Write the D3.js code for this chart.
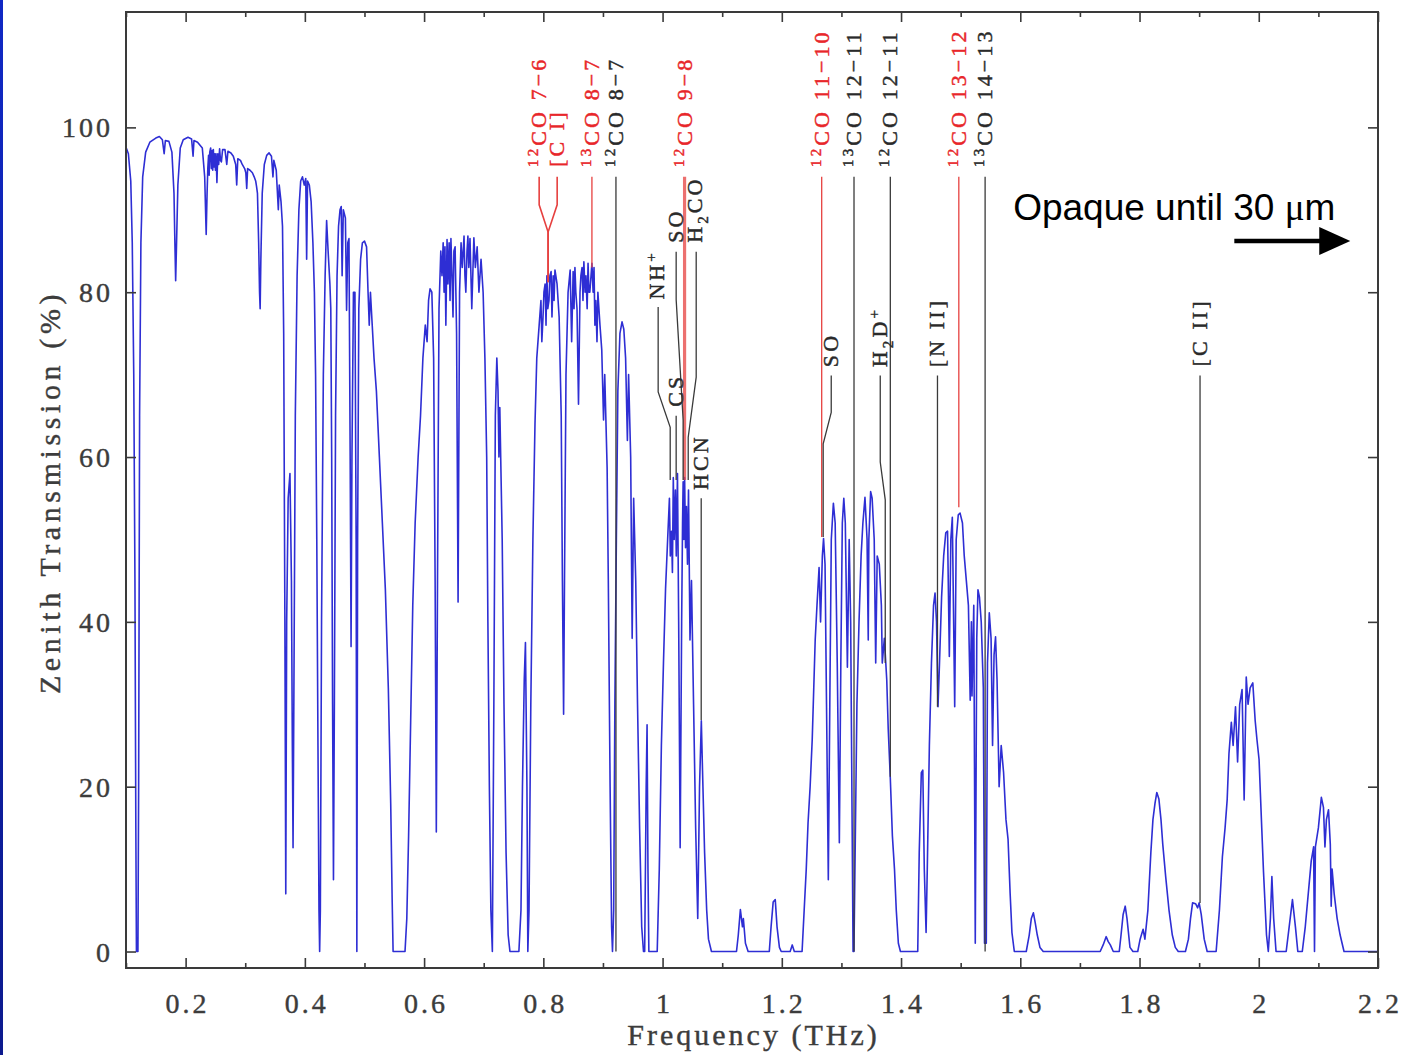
<!DOCTYPE html>
<html>
<head>
<meta charset="utf-8">
<script src="https://cdn.jsdelivr.net/npm/d3@7"></script>
<style>
  html, body { margin: 0; padding: 0; background: #fff; }
  svg { display: block; }
</style>
</head>
<body>
<svg id="chart" width="1401" height="1055"></svg>
<script>
// Zenith atmospheric transmission, frequency in THz, transmission in %
const spectrum = [
  [0.1000,97.6],[0.1040,96.8],[0.1080,93.5],[0.1105,86],[0.1130,70],[0.1150,45],[0.1165,15],[0.1175,0],[0.1200,0],[0.1212,20],
  [0.1228,65],[0.1250,86],[0.1280,94],[0.1330,97],[0.1400,98.2],[0.1500,98.7],[0.1560,98.9],[0.1610,98.5],[0.1640,96.8],[0.1660,98.4],
  [0.1720,98.3],[0.1770,97],[0.1805,92],[0.1820,86],[0.1833,81.4],[0.1848,86],[0.1870,93],[0.1910,97.5],[0.1960,98.5],[0.2040,98.8],
  [0.2100,98.6],[0.2125,96.5],[0.2140,98.4],[0.2200,98.2],[0.2280,97.5],[0.2320,94],[0.2345,87],[0.2360,92],[0.2372,95],[0.2385,96.6],
  [0.2395,94.2],[0.2405,97],[0.2420,97.5],[0.2432,95],[0.2445,97.2],[0.2455,94.8],[0.2465,97.3],[0.2478,95.2],[0.2490,96.8],[0.2500,94.8],
  [0.2510,96.8],[0.2525,93.3],[0.2540,96.8],[0.2555,95.5],[0.2570,97.4],[0.2585,96],[0.2600,95.8],[0.2620,97.3],[0.2660,97.3],[0.2690,95.5],
  [0.2710,97.1],[0.2760,96.9],[0.2800,96.5],[0.2840,95.5],[0.2857,93.0],[0.2875,96.2],[0.2920,96.0],[0.2950,95.5],[0.2990,95.0],[0.3010,94.5],
  [0.3025,92.6],[0.3040,95.0],[0.3080,94.8],[0.3120,94.5],[0.3150,94.0],[0.3175,93.5],[0.3190,92.8],[0.3205,92.0],[0.3225,86],[0.3240,80],
  [0.3250,78],[0.3262,84],[0.3285,92],[0.3320,95.5],[0.3360,96.6],[0.3400,96.9],[0.3440,96.5],[0.3465,94],[0.3480,96],[0.3520,94.8],
  [0.3555,90],[0.3570,93],[0.3600,91],[0.3625,88],[0.3645,75],[0.3665,40],[0.3680,7],[0.3695,40],[0.3720,55],[0.3750,58],
  [0.3775,45],[0.3790,25],[0.3802,12.6],[0.3815,30],[0.3840,65],[0.3870,82],[0.3900,90],[0.3930,93.5],[0.3960,94],[0.3990,93],
  [0.4015,93.8],[0.4030,84],[0.4045,93.5],[0.4075,93],[0.4105,91],[0.4135,86],[0.4160,80],[0.4180,70],[0.4200,50],[0.4220,25],
  [0.4237,5],[0.4248,0],[0.4260,5],[0.4280,40],[0.4310,70],[0.4340,82],[0.4365,88.7],[0.4390,85],[0.4420,81],[0.4435,78],
  [0.4450,60],[0.4465,30],[0.4480,8.7],[0.4495,30],[0.4515,65],[0.4540,82],[0.4565,88],[0.4590,90],[0.4610,90.4],[0.4625,82],
  [0.4645,90],[0.4680,89],[0.4700,77.8],[0.4720,86],[0.4740,86.5],[0.4760,60],[0.4775,37],[0.4790,60],[0.4815,80],[0.4840,80],
  [0.4860,50],[0.4872,0],[0.4885,50],[0.4905,78],[0.4935,84],[0.4965,86],[0.5000,86.2],[0.5035,85.5],[0.5060,80],[0.5080,76],
  [0.5100,80],[0.5130,76],[0.5160,72],[0.5200,68],[0.5250,60],[0.5300,52],[0.5350,44],[0.5400,32],[0.5440,18],[0.5465,6],
  [0.5480,0],[0.5680,0],[0.5710,4],[0.5740,14],[0.5775,28],[0.5810,42],[0.5850,52],[0.5900,60],[0.5940,65],[0.5980,72],
  [0.6020,76],[0.6050,74],[0.6075,79],[0.6100,80.4],[0.6130,80],[0.6160,72],[0.6185,45],[0.6205,14.5],[0.6225,45],[0.6250,78],
  [0.6280,85],[0.6300,82],[0.6320,86],[0.6335,80],[0.6350,85.5],[0.6365,76],[0.6385,86.4],[0.6400,81],[0.6420,86],[0.6435,79],
  [0.6450,86.5],[0.6468,82],[0.6485,77],[0.6500,85],[0.6520,85.5],[0.6545,75],[0.6570,42.4],[0.6595,80],[0.6620,86],[0.6640,83],
  [0.6670,86.8],[0.6685,82],[0.6700,80],[0.6720,85],[0.6735,86.8],[0.6750,83],[0.6770,86.5],[0.6800,78],[0.6835,86.6],[0.6860,83],
  [0.6890,85.5],[0.6920,80],[0.6955,84],[0.6990,80],[0.7020,72],[0.7050,60],[0.7070,40],[0.7095,20],[0.7120,5],[0.7145,0],
  [0.7170,30],[0.7195,65],[0.7220,72],[0.7240,68],[0.7255,60],[0.7270,66],[0.7310,50],[0.7340,30],[0.7375,12],[0.7410,2],
  [0.7440,0],[0.7590,0],[0.7625,5],[0.7650,20],[0.7680,33],[0.7700,37.5],[0.7725,20],[0.7740,0],[0.7760,5],[0.7790,30],
  [0.7825,50],[0.7860,64],[0.7890,72],[0.7930,76],[0.7960,79],[0.7975,74],[0.7995,77],[0.8010,80],[0.8030,81],[0.8045,76],
  [0.8060,82],[0.8075,78],[0.8095,79],[0.8110,82],[0.8130,82.5],[0.8145,77],[0.8165,82],[0.8180,79],[0.8195,82.7],[0.8230,81],
  [0.8265,77],[0.8300,65],[0.8320,45],[0.8340,28.8],[0.8355,45],[0.8380,70],[0.8415,80],[0.8450,82.7],[0.8475,74],[0.8500,82.5],
  [0.8515,78],[0.8530,83],[0.8545,80],[0.8565,78],[0.8590,66.4],[0.8615,80],[0.8630,82],[0.8650,83],[0.8665,79],[0.8680,83.7],
  [0.8700,80],[0.8715,82],[0.8735,78],[0.8750,83.5],[0.8765,80],[0.8780,80],[0.8800,82],[0.8815,83.5],[0.8835,80],[0.8850,83],
  [0.8865,76],[0.8880,79],[0.8900,74],[0.8915,80],[0.8950,76],[0.8980,73],[0.9010,64.5],[0.9030,70],[0.9070,58.7],[0.9090,45],
  [0.9120,20],[0.9145,3],[0.9160,0],[0.9180,5],[0.9200,30],[0.9225,50],[0.9250,68],[0.9285,75],[0.9320,76.4],[0.9350,75.5],
  [0.9380,72],[0.9410,62],[0.9430,70],[0.9465,60],[0.9490,38],[0.9515,55],[0.9550,45],[0.9580,30],[0.9615,15],[0.9650,3],
  [0.9680,0],[0.9700,0],[0.9725,20],[0.9740,27.5],[0.9755,10],[0.9770,0],[0.9910,0],[0.9945,10],[0.9980,25],[1.0015,35],
  [1.0050,44],[1.0085,50],[1.0115,55],[1.0130,48],[1.0150,51],[1.0165,46],[1.0180,57.5],[1.0195,50],[1.0215,56],[1.0230,48],
  [1.0250,58],[1.0270,40],[1.0295,12.6],[1.0320,40],[1.0335,52],[1.0345,57],[1.0358,50],[1.0370,57.5],[1.0385,49],[1.0400,54],
  [1.0418,47],[1.0435,56],[1.0460,37.8],[1.0485,45],[1.0520,30],[1.0555,15],[1.0590,4],[1.0620,20],[1.0650,28],[1.0670,22],
  [1.0705,12],[1.0740,5],[1.0770,1.5],[1.0820,0],[1.1240,0],[1.1270,2],[1.1305,5.1],[1.1340,3],[1.1355,4],[1.1390,1],
  [1.1435,0],[1.1790,0],[1.1820,3],[1.1855,6],[1.1890,6.3],[1.1920,3],[1.1960,0.5],[1.1990,0],[1.2140,0],[1.2175,0.8],
  [1.2210,0],[1.2340,0],[1.2375,5],[1.2410,10],[1.2440,15.6],[1.2475,20],[1.2510,25.7],[1.2560,37.8],[1.2590,42],[1.2625,46.6],
  [1.2650,40],[1.2680,48],[1.2700,50.1],[1.2725,47],[1.2750,30],[1.2780,8.7],[1.2805,30],[1.2830,50],[1.2865,54.4],[1.2895,52],
  [1.2930,35],[1.2965,13.2],[1.2990,35],[1.3015,52],[1.3040,55],[1.3065,52],[1.3100,34.5],[1.3130,50],[1.3155,40],[1.3180,15],
  [1.3195,0],[1.3210,0],[1.3235,15],[1.3260,30],[1.3295,40],[1.3330,48],[1.3360,52],[1.3395,55.1],[1.3430,50],[1.3450,37.8],
  [1.3460,50],[1.3490,55.8],[1.3515,55],[1.3550,50],[1.3575,35],[1.3600,48],[1.3635,47],[1.3670,42],[1.3685,35],[1.3720,38],
  [1.3760,33],[1.3785,27],[1.3820,21],[1.3855,14],[1.3890,10],[1.3920,5],[1.3955,1],[1.3990,0],[1.4280,0],[1.4305,12],
  [1.4340,21.7],[1.4365,22],[1.4390,10],[1.4420,2.3],[1.4440,10],[1.4475,25],[1.4510,35],[1.4545,42],[1.4570,43.5],[1.4595,40],
  [1.4620,29.7],[1.4645,35],[1.4680,43],[1.4715,48],[1.4750,50.8],[1.4780,51],[1.4810,35.8],[1.4835,50],[1.4860,52.7],[1.4900,29.7],
  [1.4925,50],[1.4960,53],[1.4990,53.2],[1.5030,52],[1.5060,48],[1.5095,45],[1.5130,42],[1.5160,30.5],[1.5180,40],[1.5190,31],
  [1.5220,42],[1.5245,1],[1.5270,38],[1.5290,43.9],[1.5315,43],[1.5345,40],[1.5380,32],[1.5400,1],[1.5430,1],[1.5450,35],
  [1.5480,41.1],[1.5510,38],[1.5535,25],[1.5560,36],[1.5585,38.2],[1.5610,33],[1.5645,20],[1.5680,25],[1.5720,21.7],[1.5760,16],
  [1.5795,13.6],[1.5830,7],[1.5860,2.3],[1.5900,0],[1.6100,0],[1.6150,2],[1.6185,4],[1.6220,4.7],[1.6250,3.5],[1.6285,2],
  [1.6330,0.5],[1.6385,0],[1.7340,0],[1.7390,0.8],[1.7440,1.8],[1.7475,1.2],[1.7510,0.8],[1.7560,0],[1.7660,0],[1.7690,2],
  [1.7725,4.5],[1.7760,5.5],[1.7790,4],[1.7840,0.5],[1.7890,0],[1.7970,0],[1.8010,1.5],[1.8060,2.7],[1.8090,1.5],[1.8140,5],
  [1.8190,12],[1.8225,16],[1.8260,18],[1.8290,19.3],[1.8325,18.5],[1.8360,16],[1.8390,13],[1.8440,9],[1.8495,5],[1.8550,2],
  [1.8600,0.5],[1.8650,0],[1.8770,0],[1.8820,1.5],[1.8855,4],[1.8890,5.9],[1.8940,5.8],[1.8975,5.3],[1.9000,5.9],[1.9035,4.5],
  [1.9085,1.5],[1.9135,0],[1.9285,0],[1.9340,5],[1.9390,11.5],[1.9435,15],[1.9470,18.4],[1.9500,24],[1.9540,27.8],[1.9570,25],
  [1.9610,29.7],[1.9645,23],[1.9680,30],[1.9720,31.8],[1.9755,18.4],[1.9790,33.3],[1.9820,30],[1.9855,32],[1.9900,32.6],[1.9940,28],
  [1.9970,25.7],[2.0005,23.3],[2.0050,15],[2.0080,9.6],[2.0130,2],[2.0160,0],[2.0195,4],[2.0220,9.1],[2.0250,4],[2.0290,0],
  [2.0460,0],[2.0510,3],[2.0565,6.3],[2.0615,3],[2.0655,0],[2.0730,0],[2.0780,3],[2.0830,7],[2.0880,11],[2.0920,12.7],
  [2.0935,0],[2.0950,12.7],[2.1000,15],[2.1050,18.7],[2.1085,17.5],[2.1110,12.7],[2.1135,16],[2.1170,17.2],[2.1200,13],[2.1215,5.5],
  [2.1230,10],[2.1265,7],[2.1315,4],[2.1365,2],[2.1430,0],[2.2000,0]
];

// Axis ticks
const xMajorTicks = [0.2, 0.4, 0.6, 0.8, 1.0, 1.2, 1.4, 1.6, 1.8, 2.0, 2.2];
const xMinorTicks = [0.1, 0.3, 0.5, 0.7, 0.9, 1.1, 1.3, 1.5, 1.7, 1.9, 2.1];
const yTicks = [0, 20, 40, 60, 80, 100];

// Spectral line markers: label, rest frequency (THz), transmission where the marker ends, highlighted (red)
const markerLabel = ["^{12}CO 7−6", "[C I]", "^{13}CO 8−7", "^{12}CO 8−7", "^{12}CO 9−8", "NH^{+}", "SO", "H_{2}CO", "CS", "HCN",
  "^{12}CO 11−10", "SO", "^{13}CO 12−11", "H_{2}D^{+}", "^{12}CO 12−11", "[N II]", "^{12}CO 13−12", "^{13}CO 14−13", "[C II]"];
const markerFreq = [0.808, 0.808, 0.8815, 0.9218, 1.0369, 1.0128, 1.0345, 1.0430, 1.0228, 1.0648,
  1.2669, 1.2694, 1.3211, 1.3735, 1.3820, 1.4611, 1.4969, 1.5410, 1.9015];
const markerDepth = [81.2, 81.2, 83, 0, 57.2, 57.2, 57.2, 57.2, 57.2, 28.1,
  50.3, 50.3, 0, 35, 21.2, 29.7, 53.9, 0, 5.9];
const markerRed = [true, true, true, false, true, false, false, false, false, false,
  true, false, false, false, false, false, true, false, false];

// Label placement [freq, transmission at text start] and leader-line bends
const labelAnchor = [[0.7930,95.2],[0.8232,95.2],[0.8815,95.2],[0.9218,95.2],[1.0369,95.2],[0.9910,79.1],[1.0228,86.0],[1.0547,86.0],[1.0228,66.1],[1.0648,56.0],
  [1.2669,95.2],[1.2829,70.9],[1.3211,95.2],[1.3651,70.9],[1.3820,95.2],[1.4611,70.9],[1.4969,95.2],[1.5410,95.2],[1.9015,71.0]];
const leaderBends = [
  [[0.7930,94.0],[0.7930,90.6],[0.808,87.3]],
  [[0.8232,94.0],[0.8232,90.6],[0.808,87.3]],
  [[0.8815,94.0]],
  [[0.9218,94.0]],
  [[1.0369,94.0]],
  [[0.9926,78.2],[0.9926,67.9],[1.0128,63.6]],
  [[1.0228,84.9],[1.0228,79.1],[1.0345,64.5]],
  [[1.0564,84.9],[1.0564,69.7],[1.0430,62.4]],
  [[1.0228,65.0]],
  [[1.0648,55.0]],
  [[1.2669,94.0]],
  [[1.2829,69.9],[1.2829,65.4],[1.2694,61.6]],
  [[1.3211,94.0]],
  [[1.3651,69.9],[1.3651,59.4],[1.3735,54.8]],
  [[1.3820,94.0]],
  [[1.4611,69.9]],
  [[1.4969,94.0]],
  [[1.5410,94.0]],
  [[1.9015,69.9]]
];
const leaderWidth = [1.6, 1.6, 1.3, 1.3, 3.2, 1.3, 1.3, 1.3, 1.3, 1.3,
  1.3, 1.3, 1.3, 1.3, 1.3, 1.3, 1.3, 1.3, 1.3];

const svg = d3.select("#chart");
const W = 1401, H = 1055;
const plot = { left: 126, right: 1378, top: 12, bottom: 968 };

const x = d3.scaleLinear().domain([0.1, 2.2]).range([plot.left, plot.right]);
const y = d3.scaleLinear().domain([-2, 114]).range([plot.bottom, plot.top]);

// page background and the slide edge on the left
const defs = svg.append("defs");
const grad = defs.append("linearGradient")
  .attr("id", "edge").attr("x1", 0).attr("y1", 0).attr("x2", 0).attr("y2", 1);
grad.append("stop").attr("offset", "0%").attr("stop-color", "#1028c4");
grad.append("stop").attr("offset", "100%").attr("stop-color", "#0c1a8e");
svg.append("rect").attr("width", W).attr("height", H).attr("fill", "#fff");
svg.append("rect").attr("x", 0).attr("y", 0).attr("width", 3).attr("height", H).attr("fill", "url(#edge)");

defs.append("clipPath").attr("id", "plotClip")
  .append("rect").attr("x", plot.left).attr("y", plot.top)
  .attr("width", plot.right - plot.left).attr("height", plot.bottom - plot.top);

// spectrum
const line = d3.line().x(d => x(d[0])).y(d => y(d[1]));
svg.append("path")
  .datum(spectrum)
  .attr("clip-path", "url(#plotClip)")
  .attr("d", line)
  .attr("fill", "none")
  .attr("stroke", "#2e2ed4")
  .attr("stroke-width", 1.6)
  .attr("stroke-linejoin", "round");

// marker leader lines
const leader = d3.line().x(d => x(d[0])).y(d => y(d[1]));
markerLabel.forEach((lab, i) => {
  const pts = leaderBends[i].concat([[markerFreq[i], markerDepth[i]]]);
  svg.append("path")
    .attr("d", leader(pts))
    .attr("fill", "none")
    .attr("stroke", markerRed[i] ? "#e6403f" : "#3a3a3a")
    .attr("stroke-opacity", leaderWidth[i] > 2 ? 0.75 : 1)
    .attr("stroke-width", leaderWidth[i]);
});

// marker labels, rotated, with super/subscripts
function richText(sel, str) {
  const parts = str.split(/(\^\{[^}]*\}|_\{[^}]*\})/).filter(s => s.length);
  let shift = 0;
  parts.forEach(p => {
    let t = p, target = 0, small = false;
    if (p.startsWith("^{")) { t = p.slice(2, -1); target = -8; small = true; }
    else if (p.startsWith("_{")) { t = p.slice(2, -1); target = 6; small = true; }
    const ts = sel.append("tspan").text(t).attr("dy", target - shift);
    if (small) ts.attr("font-size", 15);
    shift = target;
  });
}
markerLabel.forEach((lab, i) => {
  const [f, t] = labelAnchor[i];
  const col = markerRed[i] ? "#e8262a" : "#2a2a2a";
  const txt = svg.append("text")
    .attr("transform", `translate(${x(f) + 7},${y(t)}) rotate(-90)`)
    .attr("font-family", "'Liberation Serif', 'Times New Roman', serif")
    .attr("font-size", 22)
    .attr("letter-spacing", 3.1)
    .attr("fill", col)
    .attr("stroke", col).attr("stroke-width", 0.45)
    .attr("xml:space", "preserve");
  richText(txt, lab);
});

// axes: ticks point inward on all four sides
const axisColor = "#3a3a3a";
const gB = svg.append("g").attr("transform", `translate(0,${plot.bottom})`)
  .call(d3.axisBottom(x).tickValues(xMajorTicks).tickSize(-10).tickPadding(0)
    .tickFormat(d => String(+d.toFixed(1))));
svg.append("g").attr("transform", `translate(0,${plot.bottom})`)
  .call(d3.axisBottom(x).tickValues(xMinorTicks).tickSize(-5).tickFormat(""));
svg.append("g").attr("transform", `translate(0,${plot.top})`)
  .call(d3.axisTop(x).tickValues(xMajorTicks).tickSize(-10).tickFormat(""));
svg.append("g").attr("transform", `translate(0,${plot.top})`)
  .call(d3.axisTop(x).tickValues(xMinorTicks).tickSize(-5).tickFormat(""));
const gL = svg.append("g").attr("transform", `translate(${plot.left},0)`)
  .call(d3.axisLeft(y).tickValues(yTicks).tickSize(-10).tickFormat(d3.format("d")));
svg.append("g").attr("transform", `translate(${plot.right},0)`)
  .call(d3.axisRight(y).tickValues(yTicks).tickSize(-10).tickFormat(""));

svg.selectAll(".domain").remove();
svg.selectAll(".tick line").attr("stroke", axisColor).attr("stroke-width", 1.6);
svg.selectAll(".tick text")
  .attr("font-family", "'Liberation Serif', 'Times New Roman', serif")
  .attr("font-size", 28)
  .attr("letter-spacing", 3)
  .attr("fill", "#3c3c3c")
  .attr("stroke", "#3c3c3c").attr("stroke-width", 0.4);
gB.selectAll(".tick text").attr("y", 45).attr("dy", null).attr("dx", 1.5);
gL.selectAll(".tick text").attr("x", -13).attr("dy", "0.34em");

// frame
svg.append("rect")
  .attr("x", plot.left).attr("y", plot.top)
  .attr("width", plot.right - plot.left).attr("height", plot.bottom - plot.top)
  .attr("fill", "none").attr("stroke", axisColor).attr("stroke-width", 2);

// axis titles
svg.append("text")
  .attr("x", (plot.left + plot.right) / 2 + 1.5).attr("y", 1045)
  .attr("text-anchor", "middle")
  .attr("font-family", "'Liberation Serif', 'Times New Roman', serif")
  .attr("font-size", 30).attr("letter-spacing", 3).attr("fill", "#3c3c3c")
  .attr("stroke", "#3c3c3c").attr("stroke-width", 0.4)
  .text("Frequency (THz)");
svg.append("text")
  .attr("transform", `translate(60,${(plot.top + plot.bottom) / 2 + 2}) rotate(-90)`)
  .attr("text-anchor", "middle")
  .attr("font-family", "'Liberation Serif', 'Times New Roman', serif")
  .attr("font-size", 30).attr("letter-spacing", 4.6).attr("fill", "#3c3c3c")
  .attr("stroke", "#3c3c3c").attr("stroke-width", 0.4)
  .text("Zenith Transmission (%)");

// opacity note with arrow
const note = svg.append("text")
  .attr("x", x(1.588)).attr("y", y(88.8))
  .attr("font-family", "'Liberation Sans', Arial, sans-serif")
  .attr("font-size", 37).attr("fill", "#000");
note.append("tspan").text("Opaque until 30 ");
note.append("tspan").attr("font-family", "'Liberation Serif', serif").text("μ");
note.append("tspan").text("m");
const ay = y(86.2);
svg.append("line")
  .attr("x1", x(1.959)).attr("x2", x(2.108)).attr("y1", ay).attr("y2", ay)
  .attr("stroke", "#000").attr("stroke-width", 4.5);
svg.append("path")
  .attr("d", `M${x(2.1015)},${ay - 14} L${x(2.1535)},${ay} L${x(2.1015)},${ay + 14} Z`)
  .attr("fill", "#000");
</script>
</body>
</html>
